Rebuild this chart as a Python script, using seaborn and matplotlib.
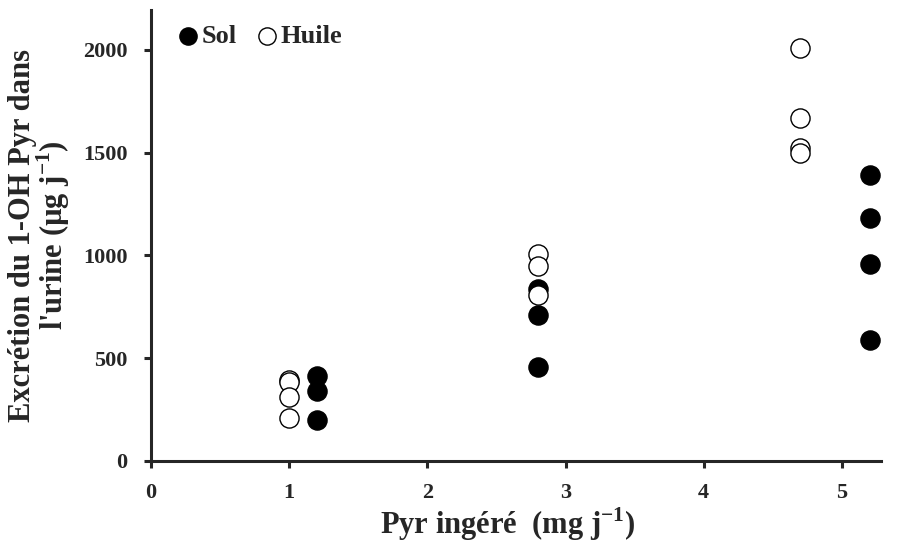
import numpy as np
import pandas as pd
import seaborn as sns
import matplotlib.pyplot as plt

# values
sol_x = [1.2, 1.2, 1.2, 2.8, 2.8, 2.8, 5.2, 5.2, 5.2, 5.2]
sol_y = [415, 341, 200, 835, 710, 459, 1392, 1181, 957, 589]
huile_x = [1.0, 1.0, 1.0, 1.0, 2.8, 2.8, 2.8, 4.7, 4.7, 4.7, 4.7]
huile_y = [391, 385, 313, 208, 1005, 949, 808, 2008, 1668, 1522, 1497]

sns.set_style("ticks")
plt.rcParams['font.family'] = ['Liberation Serif', 'DejaVu Serif']
plt.rcParams['font.weight'] = 'bold'
plt.rcParams['mathtext.fontset'] = 'custom'
plt.rcParams['mathtext.rm'] = 'Liberation Serif:bold'
plt.rcParams['mathtext.bf'] = 'Liberation Serif:bold'

sol = pd.DataFrame({"x": sol_x, "y": sol_y})
huile = pd.DataFrame({"x": huile_x, "y": huile_y})

fig = plt.figure(figsize=(9.05, 5.46), dpi=100)
ax = fig.add_axes([0.167, 0.156, 0.806, 0.826])

sns.scatterplot(data=sol, x="x", y="y", ax=ax, s=190, color="black",
                edgecolor="black", linewidth=1, label="Sol", zorder=3)
sns.scatterplot(data=huile, x="x", y="y", ax=ax, s=190, facecolor="white",
                edgecolor="black", linewidth=1, label="Huile", zorder=4)

ax.set_xlim(0, 5.28)
ax.set_ylim(0, 2195)
ax.set_xticks([0, 1, 2, 3, 4, 5])
ax.set_yticks([0, 500, 1000, 1500, 2000])
ax.tick_params(labelsize=16, width=2.2, length=5, direction="out")
ax.tick_params(axis="y", pad=12)
ax.tick_params(axis="x", pad=11)
for lab in ax.get_xticklabels() + ax.get_yticklabels():
    lab.set_fontweight("bold")
sns.despine(ax=ax)
for sp in ["left", "bottom"]:
    ax.spines[sp].set_linewidth(2.2)

ax.set_xlabel("Pyr ingéré  (mg j$^{-1}$)", fontsize=22, fontweight="bold")
ax.xaxis.set_label_coords(0.489, -0.098)
ax.set_ylabel("Excrétion du 1-OH Pyr dans\nl'urine (µg j$^{-1}$)", fontsize=22,
              fontweight="bold", labelpad=8, linespacing=0.9)

leg = ax.legend(loc="upper left", bbox_to_anchor=(0.011, 0.997), ncol=2, frameon=False,
                handlelength=1.2, handletextpad=-0.1, columnspacing=0.55,
                markerscale=0.9, borderaxespad=0.3, borderpad=0.2,
                prop={"size": 19, "weight": "bold"})

fig.savefig("out.png", dpi=100)
